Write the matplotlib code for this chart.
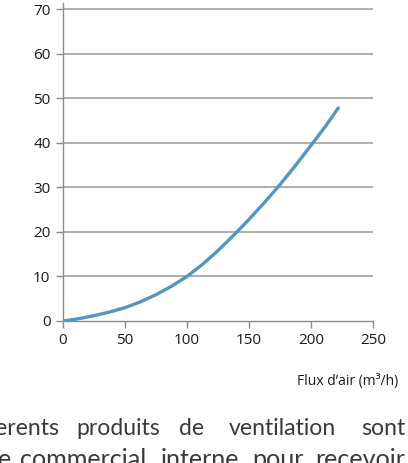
import matplotlib
matplotlib.use("Agg")
import matplotlib.pyplot as plt

# values
flux = [0, 12.5, 25, 37.5, 50, 62.5, 75, 87.5, 100, 112.5, 125, 137.5,
        150, 162.5, 175, 187.5, 200, 212.5, 222]
pression = [0, 0.5, 1.2, 2.0, 3.0, 4.3, 5.9, 7.8, 10.0, 12.7, 15.8, 19.2,
            22.8, 26.6, 30.6, 34.9, 39.4, 44.0, 47.8]

x_ticks = [0, 50, 100, 150, 200, 250]
y_ticks = [0, 10, 20, 30, 40, 50, 60, 70]

xlabel = "Flux d\u2019air (m\u00b3/h)"
# cropped body text below the chart: word and its (left, right) span in px
line1 = [("erents", 0, 53), ("produits", 74, 162), ("de", 180, 203),
         ("ventilation", 225, 340), ("sont", 360, 406)]
line2 = [("e", 0, 9), ("commercial", 22, 145), ("interne", 158, 241),
         ("pour", 252, 303), ("recevoir", 313, 408)]

CURVE = "#5596c1"
GRID = "#a8a8a8"
AXIS = "#8c8c8c"
INK = "#1a1a1a"
BODY = "#3a3a3a"

W, H = 408, 463
fig = plt.figure(figsize=(W / 100, H / 100), dpi=100)
ax = fig.add_axes([63 / W, 1 - 321 / H, (373 - 63) / W, (321 - 3) / H])

ax.plot(flux, pression, color=CURVE, lw=2.4, solid_capstyle="round",
        solid_joinstyle="round", zorder=3)

ax.set_xlim(0, 250)
ax.set_ylim(0, 71.35)
ax.set_xticks(x_ticks)
ax.set_yticks(y_ticks)
for y in y_ticks[1:]:
    ax.axhline(y, color=GRID, lw=1.3, zorder=1)

for s in ["top", "right"]:
    ax.spines[s].set_visible(False)
for s in ["left", "bottom"]:
    ax.spines[s].set_color(AXIS)
    ax.spines[s].set_linewidth(1.0)
ax.tick_params(axis="both", color=AXIS, length=5, width=1.0, labelsize=11,
               labelcolor=INK, pad=4)
for lab in ax.get_xticklabels() + ax.get_yticklabels():
    lab.set_fontfamily("Open Sans")

fig.text(398 / W, 1 - 382 / H, xlabel, ha="right", va="center",
         fontsize=10, family="Open Sans", color=INK)

# fit body font size so words fill their spans like the justified original
renderer = fig.canvas.get_renderer()


def body_line(words, base_y):
    probe = [fig.text(0, 0, w, fontsize=20, family="Lato") for w, _, _ in words]
    got = sum(t.get_window_extent(renderer).width for t in probe)
    want = sum(r - l for _, l, r in words)
    for t in probe:
        t.remove()
    size = 20 * want / got
    for w, l, r in words:
        fig.text((l + r) / 2 / W, 1 - base_y / H, w, ha="center", va="baseline",
                 fontsize=size, family="Lato", color=BODY)


body_line(line1, 435)
body_line(line2, 467)

fig.savefig("out.png", dpi=100)
